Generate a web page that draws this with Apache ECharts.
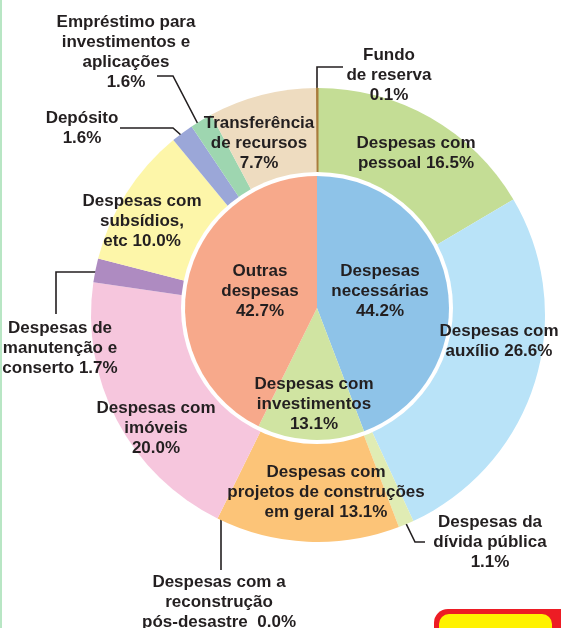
<!DOCTYPE html>
<html>
<head>
<meta charset="utf-8">
<script src="https://cdn.jsdelivr.net/npm/echarts@6/dist/echarts.min.js"></script>
<style>
html,body{margin:0;padding:0;background:#fff;}
#chart{width:561px;height:628px;}
</style>
</head>
<body>
<div id="chart"></div>
<script>
// anel externo (sentido horário a partir do topo)
var outerNames = ['Despesas com\npessoal', 'Despesas com\nauxílio', 'Despesas da\ndívida pública',
	'Despesas com\nprojetos de construções\nem geral', 'Despesas com a\nreconstrução\npós-desastre ',
	'Despesas com\nimóveis', 'Despesas de\nmanutenção e\nconserto', 'Despesas com\nsubsídios,\netc',
	'Depósito', 'Empréstimo para\ninvestimentos e\naplicações', 'Transferência\nde recursos', 'Fundo\nde reserva'];
var outerValues = [16.5, 26.6, 1.1, 13.1, 0.0, 20.0, 1.7, 10.0, 1.6, 1.6, 7.7, 0.1];
var outerJoin = [' ', ' ', '\n', ' ', ' ', '\n', ' ', ' ', '\n', '\n', '\n', '\n'];
var outerColors = ['#c4dd95', '#b9e3f8', '#e0ecb4', '#fcc478', '#fcc478', '#f6c6dd',
	'#ae8bc1', '#fdf6a9', '#9ba7d8', '#9ed6b0', '#eedcc0', '#a87c3c'];

// círculo interno
var innerNames = ['Despesas\nnecessárias', 'Despesas com\ninvestimentos', 'Outras\ndespesas'];
var innerValues = [44.2, 13.1, 42.7];
var innerColors = ['#8ec3e8', '#d0e4a2', '#f7a98b'];

// posição dos rótulos (centro do texto)
var outerLabelPos = [[416,153],[499,341],[490,542],[326,492],[219,602],[156,428],
	[60,348],[142,221],[82,128],[126,52],[259,143],[389,75]];
var outerLeader = {
	2: [[398,507],[415,542],[425,542]],
	4: [[221,517],[221,545],[221,570]],
	6: [[105,272],[56,272],[56,314]],
	8: [[190,143],[173,128],[120,128]],
	9: [[200,128],[173,76],[157,76]],
	11: [[317,88],[317,67],[343,67]]
};
var innerLabelPos = [[380,291],[314,404],[260,291]];

var txtStyle = {
	fontFamily: 'Liberation Sans',
	fontWeight: 'bold',
	fontSize: 17,
	lineHeight: 20,
	color: '#231f20'
};

var outerData = outerValues.map(function(v, i){
	var d = {
		name: outerNames[i],
		value: v,
		itemStyle: {color: outerColors[i]},
		labelLine: {show: outerLeader[i] != undefined}
	};
	if(i == 11){
		d.itemStyle.borderColor = outerColors[i];
		d.itemStyle.borderWidth = 1;
	}
	return d;
});
var innerData = innerValues.map(function(v, i){
	return {name: innerNames[i], value: v, itemStyle: {color: innerColors[i]}};
});

var chart = echarts.init(document.getElementById('chart'));
chart.setOption({
	backgroundColor: '#fff',
	animation: false,
	graphic: [
		{type:'rect', shape:{x:0, y:0, width:2, height:628}, style:{fill:'#b8e6c4'}},
		{type:'rect', shape:{x:434, y:609, width:140, height:40, r:14}, style:{fill:'#ed1c24'}},
		{type:'rect', shape:{x:439, y:614, width:113, height:30, r:10}, style:{fill:'#fff200'}}
	],
	series: [
		{
			type: 'pie',
			center: [318, 315],
			radius: [0, 227],
			startAngle: 90,
			clockwise: true,
			avoidLabelOverlap: false,
			silent: true,
			data: outerData,
			label: Object.assign({
				show: true,
				position: 'outside',
				formatter: function(p){
					return p.name + outerJoin[p.dataIndex] + p.value.toFixed(1) + '%';
				}
			}, txtStyle),
			labelLine: {
				show: true,
				lineStyle: {color: '#231f20', width: 1.6}
			},
			labelLayout: function(p){
				var pos = outerLabelPos[p.dataIndex];
				var res = {x: pos[0], y: pos[1], align: 'center', verticalAlign: 'middle'};
				if(outerLeader[p.dataIndex]){
					res.labelLinePoints = outerLeader[p.dataIndex];
				}
				return res;
			}
		},
		{
			type: 'pie',
			center: [317, 308],
			radius: [0, 136],
			silent: true,
			label: {show: false},
			labelLine: {show: false},
			data: [{value: 1, itemStyle: {color: '#ffffff'}}]
		},
		{
			type: 'pie',
			center: [317, 308],
			radius: [0, 132],
			startAngle: 90,
			clockwise: true,
			silent: true,
			data: innerData,
			label: Object.assign({
				show: true,
				position: 'inside',
				formatter: function(p){
					return p.name + '\n' + p.value.toFixed(1) + '%';
				}
			}, txtStyle),
			labelLayout: function(p){
				var pos = innerLabelPos[p.dataIndex];
				return {x: pos[0], y: pos[1], align: 'center', verticalAlign: 'middle'};
			}
		}
	]
});
</script>
</body>
</html>
